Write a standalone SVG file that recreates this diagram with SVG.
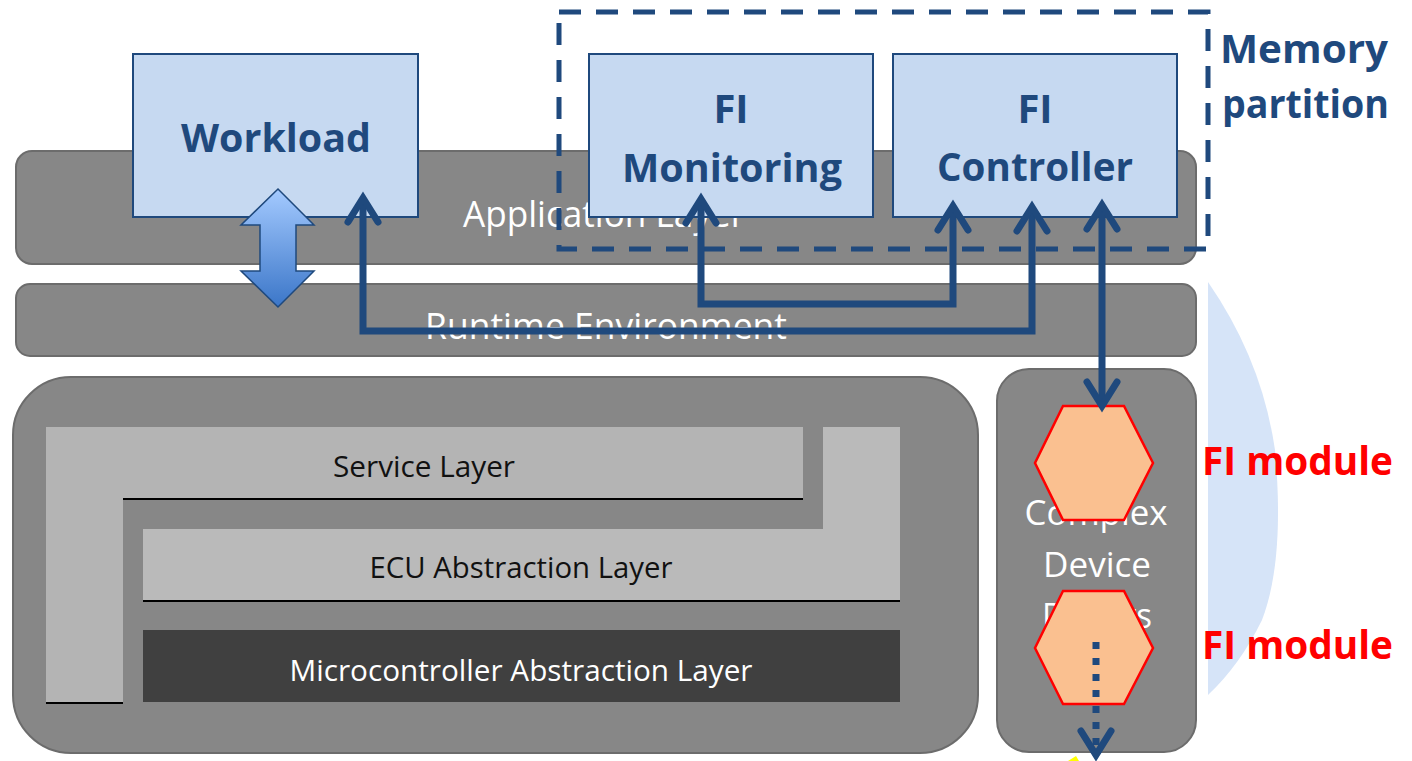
<svg xmlns="http://www.w3.org/2000/svg" width="1412" height="761" viewBox="0 0 1412 761">
<defs>
<linearGradient id="blockGrad" x1="0" y1="0" x2="0" y2="1">
<stop offset="0" stop-color="#a4caff"/>
<stop offset="1" stop-color="#3b76c8"/>
</linearGradient>
<style>
.band{fill:#878787;stroke:#6c6c6c;stroke-width:2}
.bandText{font-family:"Open Sans","Liberation Sans",sans-serif;fill:#ffffff;text-anchor:middle}
.layerText{font-family:"Open Sans","Liberation Sans",sans-serif;font-size:30px;text-anchor:middle}
.box{fill:#c6d9f1;stroke:#1f497d;stroke-width:2}
.boxText{font-family:"Open Sans","Liberation Sans",sans-serif;font-weight:bold;font-size:40px;fill:#1f497d;text-anchor:middle}
.blueLabel{font-family:"Open Sans","Liberation Sans",sans-serif;font-weight:bold;font-size:40px;fill:#1f497d}
.redLabel{font-family:"Open Sans","Liberation Sans",sans-serif;font-weight:bold;font-size:39px;fill:#ff0000}
.hex{fill:#fac090;stroke:#ff0000;stroke-width:2.5}
.conn{fill:none;stroke:#1f497d;stroke-width:7;stroke-linejoin:miter}
.head{fill:none;stroke:#1f497d;stroke-width:7;stroke-linecap:round;stroke-linejoin:miter;stroke-miterlimit:10}
.dotted{fill:none;stroke:#1f497d;stroke-width:7;stroke-dasharray:7 9}
.blackLine{stroke:#000000;stroke-width:2}
</style>
</defs>
<rect x="0" y="0" width="1412" height="761" fill="#ffffff"/>
<path d="M1208,282 Q1262,360 1275,450 Q1285,560 1262,620 Q1240,665 1208,695 Z" fill="#d6e4f8"/>

<g id="application-layer">
<rect class="band" x="16" y="151" width="1180" height="113" rx="16"/>
<text class="bandText" x="604" y="227" font-size="37" textLength="282" lengthAdjust="spacingAndGlyphs">Application Layer</text>
</g>
<g id="runtime-environment">
<rect class="band" x="16" y="284" width="1180" height="72" rx="14"/>
<text class="bandText" x="606" y="339" font-size="36" textLength="362" lengthAdjust="spacingAndGlyphs">Runtime Environment</text>
</g>
<g id="basic-software">
<rect class="band" x="13" y="377" width="965" height="376" rx="58"/>
</g>
<g id="service-layer">
<path d="M46,427 L803,427 L803,499 L123,499 L123,703 L46,703 Z" fill="#b4b4b4"/>
<line class="blackLine" x1="123" y1="499" x2="803" y2="499"/>
<line class="blackLine" x1="46" y1="703" x2="123" y2="703"/>
<text class="layerText" x="424" y="477" fill="#111111" textLength="182" lengthAdjust="spacingAndGlyphs">Service Layer</text>
</g>
<g id="ecu-abstraction-layer">
<path d="M823,427 L900,427 L900,601 L143,601 L143,529 L823,529 Z" fill="#bababa"/>
<line class="blackLine" x1="143" y1="601" x2="900" y2="601"/>
<text class="layerText" x="521" y="578" fill="#111111" textLength="303" lengthAdjust="spacingAndGlyphs">ECU Abstraction Layer</text>
</g>
<g id="microcontroller-abstraction-layer">
<rect x="143" y="630" width="757" height="72" fill="#404040"/>
<text class="layerText" x="521" y="681" fill="#ffffff" textLength="463" lengthAdjust="spacingAndGlyphs">Microcontroller Abstraction Layer</text>
</g>
<g id="complex-device-drivers">
<rect class="band" x="997" y="369" width="199" height="383" rx="32"/>
<text class="bandText" x="1096" y="525" font-size="34" textLength="143" lengthAdjust="spacingAndGlyphs">Complex</text>
<text class="bandText" x="1097" y="577" font-size="34" textLength="108" lengthAdjust="spacingAndGlyphs">Device</text>
<text class="bandText" x="1097" y="628" font-size="34" textLength="110" lengthAdjust="spacingAndGlyphs">Drivers</text>
</g>

<g id="workload">
<rect class="box" x="133" y="54" width="285" height="163"/>
<text class="boxText" x="276" y="152" textLength="190" lengthAdjust="spacingAndGlyphs">Workload</text>
</g>
<g id="fi-monitoring">
<rect class="box" x="589" y="54" width="284" height="163"/>
<text class="boxText" x="731" y="123">FI</text>
<text class="boxText" x="732" y="182" textLength="220" lengthAdjust="spacingAndGlyphs">Monitoring</text>
</g>
<g id="fi-controller">
<rect class="box" x="893" y="54" width="284" height="163"/>
<text class="boxText" x="1035" y="123">FI</text>
<text class="boxText" x="1035" y="181" textLength="196" lengthAdjust="spacingAndGlyphs">Controller</text>
</g>
<g id="memory-partition">
<rect x="559" y="12" width="649" height="237" fill="none" stroke="#1f497d" stroke-width="5" stroke-dasharray="22 15"/>
<text class="blueLabel" x="1220" y="63" textLength="168" lengthAdjust="spacingAndGlyphs">Memory</text>
<text class="blueLabel" x="1222" y="118" textLength="167" lengthAdjust="spacingAndGlyphs">partition</text>
</g>
<g id="fi-module-1">
<polygon class="hex" points="1063,406 1124,406 1153,463 1124,520 1063,520 1035,463"/>
<text class="redLabel" x="1202" y="475" textLength="191" lengthAdjust="spacingAndGlyphs">FI module</text>
</g>
<g id="fi-module-2">
<polygon class="hex" points="1063,591 1124,591 1153,648 1124,704 1063,704 1035,648"/>
<text class="redLabel" x="1202" y="659" textLength="191" lengthAdjust="spacingAndGlyphs">FI module</text>
</g>

<g id="connectors">
<polygon points="278,189 314,225 296,225 296,271 314,271 278,307 241,271 260,271 260,225 241,225" fill="url(#blockGrad)" stroke="#1f497d" stroke-width="1.5"/>
<path class="conn" d="M363,200 L363,331 L1032,331 L1032,209"/>
<path class="head" d="M348,222 L363,198 L378,222"/>
<path class="head" d="M1017,231 L1032,207 L1047,231"/>
<path class="conn" d="M701,201 L701,304 L953,304 L953,208"/>
<path class="head" d="M686,223 L701,199 L716,223"/>
<path class="head" d="M938,230 L953,206 L968,230"/>
<path class="conn" d="M1102,207 L1102,404"/>
<path class="head" d="M1087,229 L1102,205 L1117,229"/>
<path class="head" d="M1087,382 L1102,406 L1117,382"/>
<path class="dotted" d="M1096,642 L1096,752"/>
<path class="head" d="M1081,731 L1096,755 L1111,731"/>
</g>
<path d="M1068,761 L1076,756 L1079,761 Z" fill="#ffff00"/>
</svg>
